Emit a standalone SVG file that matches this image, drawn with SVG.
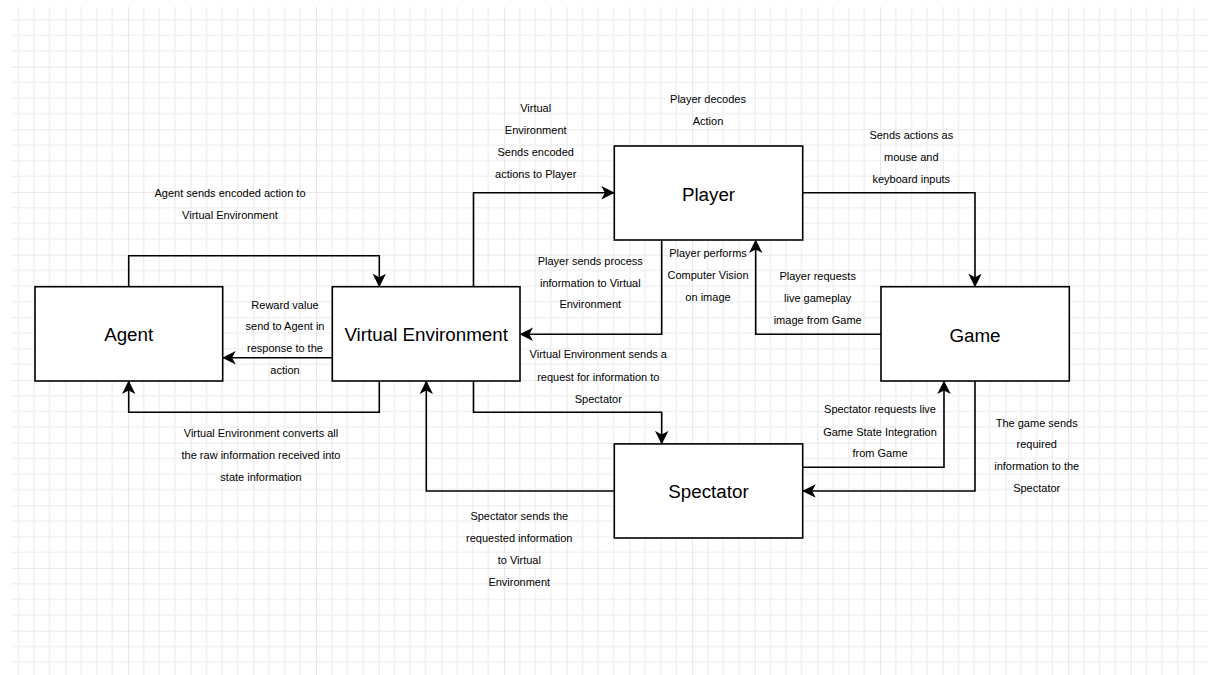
<svg xmlns="http://www.w3.org/2000/svg" width="1208" height="675" viewBox="0 0 1208 675">
  <defs>
    <pattern id="grid" patternUnits="userSpaceOnUse" x="2.67" y="4" width="62.67" height="62.67">
      <g stroke="#f1f1f1" stroke-width="1.6" fill="none">
        <path d="M15.67,0 V62.67 M31.33,0 V62.67 M47,0 V62.67"/>
        <path d="M0,15.67 H62.67 M0,31.33 H62.67 M0,47 H62.67"/>
      </g>
      <g stroke="#e3e3e3" stroke-width="1.6" fill="none">
        <path d="M0,0 V62.67 M0,0 H62.67"/>
      </g>
    </pattern>
    <marker id="arrow" markerUnits="userSpaceOnUse" viewBox="0 0 14 14" refX="13" refY="7" markerWidth="14" markerHeight="14" orient="auto">
      <path d="M13.5,7 L0,0.3 L3.6,7 L0,13.7 Z" fill="#000"/>
    </marker>
    <style>
      .box { fill: #ffffff; stroke: #000000; stroke-width: 1.6; }
      .node-label { font-family: "Liberation Sans", Arial, sans-serif; font-size: 18.8px; fill: #000; text-anchor: middle; }
      .lbl { font-family: "Liberation Sans", Arial, sans-serif; font-size: 11px; fill: #000; text-anchor: middle; }
      .edge { fill: none; stroke: #000; stroke-width: 1.6; marker-end: url(#arrow); }
    </style>
  </defs>

  <rect x="0" y="0" width="1208" height="675" fill="#ffffff"/>
  <rect x="11" y="6.7" width="1197" height="668.3" fill="url(#grid)"/>

  <g id="connectors">
    <path class="edge" d="M128.7,286.7 V255.7 H379.3 V286.7"/>
    <path class="edge" d="M332.3,357.7 H222.7"/>
    <path class="edge" d="M379.3,381 V412.3 H128.7 V381"/>
    <path class="edge" d="M473.5,286.7 V192.7 H614.3"/>
    <path class="edge" d="M661.7,240 V334.3 H520"/>
    <path class="edge" d="M802.7,192.7 H975 V286.7"/>
    <path class="edge" d="M881,334.3 H755.7 V240"/>
    <path class="edge" d="M473.5,381 V412.3 H661.7 V443.9"/>
    <path class="edge" d="M614.3,491 H426.3 V381"/>
    <path class="edge" d="M802.7,467.3 H944 V381"/>
    <path class="edge" d="M975,381 V491 H802.7"/>
  </g>

  <g id="edge-labels">
    <text class="lbl"><tspan x="230" y="197.3">Agent sends encoded action to</tspan><tspan x="230" y="218.5">Virtual Environment</tspan></text>
    <text class="lbl"><tspan x="285" y="308.7">Reward value</tspan><tspan x="285" y="330.3">send to Agent in</tspan><tspan x="285" y="352.3">response to the</tspan><tspan x="285" y="374">action</tspan></text>
    <text class="lbl"><tspan x="261" y="436.7">Virtual Environment converts all</tspan><tspan x="261" y="459">the raw information received into</tspan><tspan x="261" y="481.3">state information</tspan></text>
    <text class="lbl"><tspan x="535.7" y="112.3">Virtual</tspan><tspan x="535.7" y="134.3">Environment</tspan><tspan x="535.7" y="156.3">Sends encoded</tspan><tspan x="535.7" y="178.3">actions to Player</tspan></text>
    <text class="lbl"><tspan x="708" y="103.3">Player decodes</tspan><tspan x="708" y="124.7">Action</tspan></text>
    <text class="lbl"><tspan x="590.3" y="264.7">Player sends process</tspan><tspan x="590.3" y="286.7">information to Virtual</tspan><tspan x="590.3" y="308.3">Environment</tspan></text>
    <text class="lbl"><tspan x="708" y="257">Player performs</tspan><tspan x="708" y="279">Computer Vision</tspan><tspan x="708" y="300.7">on image</tspan></text>
    <text class="lbl"><tspan x="911.3" y="139">Sends actions as</tspan><tspan x="911.3" y="161">mouse and</tspan><tspan x="911.3" y="183.3">keyboard inputs</tspan></text>
    <text class="lbl"><tspan x="817.7" y="280">Player requests</tspan><tspan x="817.7" y="302.3">live gameplay</tspan><tspan x="817.7" y="324.3">image from Game</tspan></text>
    <text class="lbl"><tspan x="598.3" y="358.3">Virtual Environment sends a</tspan><tspan x="598.3" y="380.7">request for information to</tspan><tspan x="598.3" y="403">Spectator</tspan></text>
    <text class="lbl"><tspan x="519.3" y="520">Spectator sends the</tspan><tspan x="519.3" y="542.3">requested information</tspan><tspan x="519.3" y="564">to Virtual</tspan><tspan x="519.3" y="585.7">Environment</tspan></text>
    <text class="lbl"><tspan x="880" y="413.3">Spectator requests live</tspan><tspan x="880" y="436">Game State Integration</tspan><tspan x="880" y="457.3">from Game</tspan></text>
    <text class="lbl"><tspan x="1036.7" y="426.7">The game sends</tspan><tspan x="1036.7" y="448.3">required</tspan><tspan x="1036.7" y="470">information to the</tspan><tspan x="1036.7" y="491.7">Spectator</tspan></text>
  </g>

  <g id="agent">
    <rect class="box" x="35" y="286.7" width="187.7" height="94.3"/>
    <text class="node-label" x="128.7" y="341.4">Agent</text>
  </g>
  <g id="virtual-environment">
    <rect class="box" x="332.3" y="286.7" width="187.7" height="94.3"/>
    <text class="node-label" x="426.2" y="341.4">Virtual Environment</text>
  </g>
  <g id="player">
    <rect class="box" x="614.3" y="146" width="188.4" height="94"/>
    <text class="node-label" x="708.5" y="200.7">Player</text>
  </g>
  <g id="game">
    <rect class="box" x="881" y="286.7" width="188.3" height="94.3"/>
    <text class="node-label" x="975" y="341.7">Game</text>
  </g>
  <g id="spectator">
    <rect class="box" x="614.3" y="443.9" width="188.4" height="94.1"/>
    <text class="node-label" x="708.5" y="497.7">Spectator</text>
  </g>
</svg>
